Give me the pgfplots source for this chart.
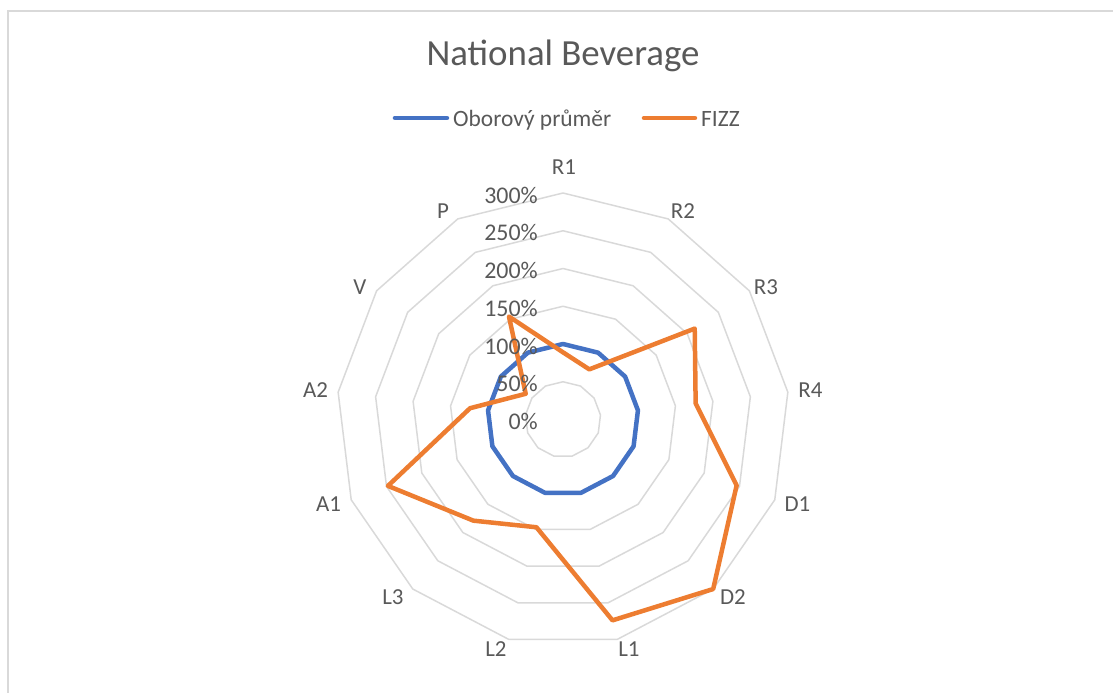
\documentclass[border=0pt]{standalone}
\usepackage{pgfplots}
\pgfplotsset{compat=1.18}
\usepgfplotslibrary{polar}
\usepackage{pgfplotstable}
\usepackage{fontspec}
\setmainfont{Carlito}
\definecolor{txt}{HTML}{595959}
\definecolor{gridc}{HTML}{D9D9D9}
\definecolor{blueS}{HTML}{4472C4}
\definecolor{orangeS}{HTML}{ED7D31}

\pgfplotstableread{
a        ind  fizz g50 g100 g150 g200 g250 g300
90       100  89   50  100  150  200  250  300
62.3077  100  75   50  100  150  200  250  300
34.6154  100  212  50  100  150  200  250  300
6.9231   100  177  50  100  150  200  250  300
339.2308 100  246  50  100  150  200  250  300
311.5385 100  300  50  100  150  200  250  300
283.8462 100  274  50  100  150  200  250  300
256.1538 100  147  50  100  150  200  250  300
228.4615 100  179  50  100  150  200  250  300
200.7692 100  248  50  100  150  200  250  300
173.0769 100  124  50  100  150  200  250  300
145.3846 100  60   50  100  150  200  250  300
117.6923 100  154  50  100  150  200  250  300
90       100  89   50  100  150  200  250  300
}\data

\begin{document}
\begin{tikzpicture}[x=1bp,y=1bp]
\begin{polaraxis}[
  at={(0,0)}, anchor=center,
  scale only axis, width=453bp, height=453bp,
  ymin=0, ymax=300, xmin=0, xmax=360,
  axis line style={draw=none},
  xtick=\empty, ytick=\empty,
  clip=false,
]
\addplot[gridc, line width=1.5bp, no markers] table[x=a,y=g50]{\data};
\addplot[gridc, line width=1.5bp, no markers] table[x=a,y=g100]{\data};
\addplot[gridc, line width=1.5bp, no markers] table[x=a,y=g150]{\data};
\addplot[gridc, line width=1.5bp, no markers] table[x=a,y=g200]{\data};
\addplot[gridc, line width=1.5bp, no markers] table[x=a,y=g250]{\data};
\addplot[gridc, line width=1.5bp, no markers] table[x=a,y=g300]{\data};
\addplot[blueS, line width=4.5bp, line join=round, line cap=round, no markers] table[x=a,y=ind]{\data};
\addplot[orangeS, line width=4.5bp, line join=round, line cap=round, no markers] table[x=a,y=fizz]{\data};
\end{polaraxis}

\begin{scope}[shift={(-563,-273.5)}]
\path[use as bounding box] (0,0) rectangle (1113,693);
\draw[gridc, line width=2bp] (8.5,0) -- (8.5,682) -- (1113,682);

% radial tick labels
\begin{scope}[every node/.style={txt, font=\fontsize{24}{28}\selectfont, inner sep=0pt, anchor=east}]
\node at (538,693-195) {300\%};
\node at (538,693-232.75) {250\%};
\node at (538,693-270.5) {200\%};
\node at (538,693-308.25) {150\%};
\node at (538,693-346) {100\%};
\node at (538,693-383.75) {50\%};
\node at (538,693-421.5) {0\%};
\end{scope}

% category labels
\begin{scope}[every node/.style={txt, font=\fontsize{23}{27}\selectfont, inner sep=0pt, anchor=center}]
\node at (564,693-167.5) {R1};
\node at (683,693-211) {R2};
\node at (766,693-287) {R3};
\node at (810.5,693-390.5) {R4};
\node at (797.5,693-504.5) {D1};
\node at (733,693-597) {D2};
\node at (629,693-649.5) {L1};
\node at (496,693-649.5) {L2};
\node at (393,693-597) {L3};
\node at (328.5,693-504.5) {A1};
\node at (315.5,693-390.5) {A2};
\node at (360,693-287) {V};
\node at (443,693-211) {P};
\end{scope}

% title
\node[txt, font=\fontsize{37}{41}\selectfont, inner sep=0pt, anchor=base] at (563,693-66) {National Beverage};

% legend
\draw[blueS, line width=4.5bp, line cap=round] (395,693-118) -- (447,693-118);
\node[txt, font=\fontsize{23.5}{27}\selectfont, inner sep=0pt, anchor=base west] at (453,693-127) {Oborový průměr};
\draw[orangeS, line width=4.5bp, line cap=round] (644,693-118) -- (695,693-118);
\node[txt, font=\fontsize{23.5}{27}\selectfont, inner sep=0pt, anchor=base west] at (701,693-127) {FIZZ};
\end{scope}
\end{tikzpicture}
\end{document}
